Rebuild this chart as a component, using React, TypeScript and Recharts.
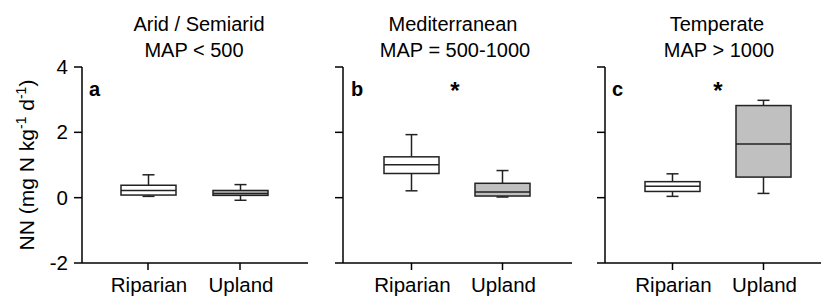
import React from 'react';
import { ComposedChart, Bar, XAxis, YAxis } from 'recharts';

const categories = ['Riparian', 'Upland'];
const yTicks = [-2, 0, 2, 4];

const aridMin = [0.04, -0.08];
const aridQ1 = [0.08, 0.07];
const aridMed = [0.22, 0.13];
const aridQ3 = [0.38, 0.22];
const aridMax = [0.7, 0.4];

const medMin = [0.21, 0.02];
const medQ1 = [0.74, 0.05];
const medMed = [1.01, 0.17];
const medQ3 = [1.25, 0.44];
const medMax = [1.93, 0.83];

const tempMin = [0.04, 0.13];
const tempQ1 = [0.19, 0.63];
const tempMed = [0.35, 1.64];
const tempQ3 = [0.49, 2.82];
const tempMax = [0.73, 2.98];

const boxFills = ['#ffffff', '#c0c0c0'];

const FONT = '"Liberation Sans", Arial, sans-serif';
const FS = 20;
const TICK_FS = 20.5;

function build(mn: number[], q1: number[], md: number[], q3: number[], mx: number[]) {
  return categories.map((name, i) => ({
    name,
    range: [mn[i], mx[i]],
    min: mn[i],
    q1: q1[i],
    med: md[i],
    q3: q3[i],
    max: mx[i],
    fill: boxFills[i],
  }));
}

const aridData = build(aridMin, aridQ1, aridMed, aridQ3, aridMax);
const medData = build(medMin, medQ1, medMed, medQ3, medMax);
const tempData = build(tempMin, tempQ1, tempMed, tempQ3, tempMax);

const BoxShape = (props: any) => {
  const { x, y, width, height } = props;
  const p = props.payload ?? props;
  const top = Math.min(y, y + height);
  const h = Math.abs(height);
  const lo = p.min;
  const hi = p.max;
  const k = hi - lo === 0 ? 0 : h / (hi - lo);
  const py = (v: number) => top + (hi - v) * k;
  const cx = x + width / 2;
  const cap = 6;
  const stroke = '#222';
  const sw = 1.5;
  return (
    <g>
      <line x1={cx} x2={cx} y1={py(p.max)} y2={py(p.q3)} stroke={stroke} strokeWidth={sw} />
      <line x1={cx} x2={cx} y1={py(p.q1)} y2={py(p.min)} stroke={stroke} strokeWidth={sw} />
      <line x1={cx - cap} x2={cx + cap} y1={py(p.max)} y2={py(p.max)} stroke={stroke} strokeWidth={sw} />
      <line x1={cx - cap} x2={cx + cap} y1={py(p.min)} y2={py(p.min)} stroke={stroke} strokeWidth={sw} />
      <rect
        x={x}
        y={py(p.q3)}
        width={width}
        height={Math.max(0, py(p.q1) - py(p.q3))}
        fill={p.fill}
        stroke={stroke}
        strokeWidth={sw}
      />
      <line x1={x} x2={x + width} y1={py(p.med)} y2={py(p.med)} stroke={stroke} strokeWidth={sw} />
    </g>
  );
};

const XTick = (props: any) => {
  const { x, y, payload } = props;
  return (
    <text x={x + 1} y={y + 14} textAnchor="middle" fontFamily={FONT} fontSize={TICK_FS} fill="#000">
      {payload.value}
    </text>
  );
};

const YTick = (props: any) => {
  const { x, y, payload } = props;
  return (
    <text x={x} y={y + 7} textAnchor="end" fontFamily={FONT} fontSize={TICK_FS} fill="#000">
      {String(payload.value)}
    </text>
  );
};

const NoTick = () => <g />;

type PanelProps = {
  data: any[];
  width: number;
  yWidth: number;
  showLabels: boolean;
  padL: number;
  padR: number;
};

const Panel = ({ data, width, yWidth, showLabels, padL, padR }: PanelProps) => (
  <ComposedChart
    width={width}
    height={296}
    data={data}
    margin={{ top: 67, right: 2, left: 0, bottom: 0 }}
  >
    <XAxis
      xAxisId="b"
      dataKey="name"
      type="category"
      height={33}
      padding={{ left: padL, right: padR }}
      axisLine={{ stroke: '#000', strokeWidth: 1.5 }}
      tickLine={{ stroke: '#000', strokeWidth: 1.5 }}
      tickSize={7}
      tickMargin={8}
      tick={<XTick />}
      interval={0}
    />
    <XAxis
      xAxisId="t"
      orientation="top"
      dataKey="name"
      type="category"
      height={0}
      axisLine={{ stroke: '#000', strokeWidth: 1.5 }}
      tickLine={false}
      tick={false}
    />
    <YAxis
      yAxisId="l"
      type="number"
      domain={[-2, 4]}
      ticks={yTicks}
      width={yWidth}
      interval={0}
      axisLine={{ stroke: '#000', strokeWidth: 1.5 }}
      tickLine={{ stroke: '#000', strokeWidth: 1.5 }}
      tickSize={8}
      tickMargin={6}
      tick={showLabels ? <YTick /> : <NoTick />}
    />
    <YAxis
      yAxisId="r"
      orientation="right"
      type="number"
      domain={[-2, 4]}
      width={0}
      axisLine={{ stroke: '#000', strokeWidth: 1.5 }}
      tickLine={false}
      tick={false}
    />
    <Bar
      xAxisId="b"
      yAxisId="l"
      dataKey="range"
      barSize={55}
      shape={<BoxShape />}
      isAnimationActive={false}
    />
  </ComposedChart>
);

const titleStyle = { fontFamily: FONT, fontSize: FS, fill: '#000' } as any;

export default function App() {
  return (
    <div
      style={{
        position: 'absolute',
        left: 0,
        top: 0,
        width: 821,
        height: 296,
        overflow: 'hidden',
        background: '#fff',
      }}
    >
      <div style={{ position: 'absolute', left: 0, top: 0 }}>
        <Panel data={aridData} width={310} yWidth={82} showLabels={true} padL={20} padR={22} />
      </div>
      <div style={{ position: 'absolute', left: 310, top: 0 }}>
        <Panel data={medData} width={264} yWidth={33} showLabels={false} padL={23} padR={24} />
      </div>
      <div style={{ position: 'absolute', left: 574, top: 0, width: 247, height: 296, overflow: 'hidden' }}>
        <Panel data={tempData} width={260} yWidth={31} showLabels={false} padL={22} padR={23} />
      </div>
      <svg
        width={821}
        height={296}
        style={{ position: 'absolute', left: 0, top: 0, pointerEvents: 'none' }}
      >
        <text x={199} y={31} textAnchor="middle" {...titleStyle}>Arid / Semiarid</text>
        <text x={194} y={57} textAnchor="middle" {...titleStyle}>MAP &lt; 500</text>
        <text x={453} y={31} textAnchor="middle" {...titleStyle}>Mediterranean</text>
        <text x={455} y={57} textAnchor="middle" {...titleStyle}>MAP = 500-1000</text>
        <text x={717} y={31} textAnchor="middle" {...titleStyle}>Temperate</text>
        <text x={719} y={57} textAnchor="middle" {...titleStyle}>MAP &gt; 1000</text>

        <text x={89} y={96} fontWeight="bold" {...titleStyle}>a</text>
        <text x={351} y={96} fontWeight="bold" {...titleStyle}>b</text>
        <text x={612} y={96} fontWeight="bold" {...titleStyle}>c</text>
        <text x={455} y={99} textAnchor="middle" fontWeight="bold" fontFamily={FONT} fontSize={24} fill="#000">*</text>
        <text x={718} y={99} textAnchor="middle" fontWeight="bold" fontFamily={FONT} fontSize={24} fill="#000">*</text>

        <text
          transform="translate(34,165) rotate(-90)"
          textAnchor="middle"
          fontFamily={FONT}
          fontSize={21}
          fill="#000"
        >
          NN (mg N kg
          <tspan dy={-8} fontSize={14}>-1</tspan>
          <tspan dy={8}> d</tspan>
          <tspan dy={-8} fontSize={14}>-1</tspan>
          <tspan dy={8}>)</tspan>
        </text>
      </svg>
    </div>
  );
}
